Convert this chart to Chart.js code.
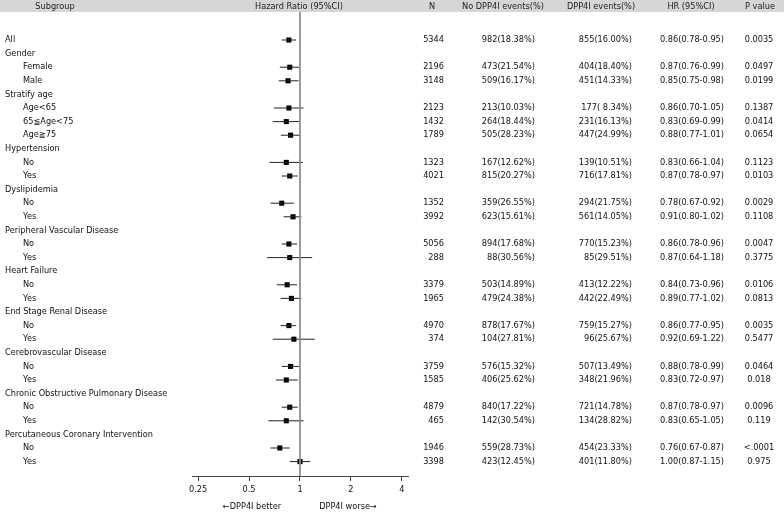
<!DOCTYPE html>
<html>
<head>
<meta charset="utf-8">
<script src="https://cdn.jsdelivr.net/npm/chart.js@4"></script>
<style>
  body { margin: 0; background: #fff; }
  #wrap { width: 784px; height: 512px; }
</style>
</head>
<body>
<div id="wrap"><canvas id="chart" width="784" height="512"></canvas></div>
<script>
// rows of the table, top to bottom
const subgroups = ["All", "Gender", "Female", "Male", "Stratify age", "Age<65", "65≦Age<75", "Age≧75",
    "Hypertension", "No", "Yes", "Dyslipidemia", "No", "Yes", "Peripheral Vascular Disease", "No", "Yes",
    "Heart Failure", "No", "Yes", "End Stage Renal Disease", "No", "Yes", "Cerebrovascular Disease", "No", "Yes",
    "Chronic Obstructive Pulmonary Disease", "No", "Yes", "Percutaneous Coronary Intervention", "No", "Yes"];
const indented = [0, 0, 1, 1, 0, 1, 1, 1, 0, 1, 1, 0, 1, 1, 0, 1, 1, 0, 1, 1, 0, 1, 1, 0, 1, 1, 0, 1, 1, 0, 1, 1];

const nTotal = [5344, null, 2196, 3148, null, 2123, 1432, 1789, null, 1323, 4021, null, 1352, 3992, null, 5056, 288,
    null, 3379, 1965, null, 4970, 374, null, 3759, 1585, null, 4879, 465, null, 1946, 3398];
const noDppEvents = [982, null, 473, 509, null, 213, 264, 505, null, 167, 815, null, 359, 623, null, 894, 88,
    null, 503, 479, null, 878, 104, null, 576, 406, null, 840, 142, null, 559, 423];
const noDppPct = [18.38, null, 21.54, 16.17, null, 10.03, 18.44, 28.23, null, 12.62, 20.27, null, 26.55, 15.61, null, 17.68, 30.56,
    null, 14.89, 24.38, null, 17.67, 27.81, null, 15.32, 25.62, null, 17.22, 30.54, null, 28.73, 12.45];
const dppEvents = [855, null, 404, 451, null, 177, 231, 447, null, 139, 716, null, 294, 561, null, 770, 85,
    null, 413, 442, null, 759, 96, null, 507, 348, null, 721, 134, null, 454, 401];
const dppPct = [16.00, null, 18.40, 14.33, null, 8.34, 16.13, 24.99, null, 10.51, 17.81, null, 21.75, 14.05, null, 15.23, 29.51,
    null, 12.22, 22.49, null, 15.27, 25.67, null, 13.49, 21.96, null, 14.78, 28.82, null, 23.33, 11.80];
const hr = [0.86, null, 0.87, 0.85, null, 0.86, 0.83, 0.88, null, 0.83, 0.87, null, 0.78, 0.91, null, 0.86, 0.87,
    null, 0.84, 0.89, null, 0.86, 0.92, null, 0.88, 0.83, null, 0.87, 0.83, null, 0.76, 1.00];
const hrLow = [0.78, null, 0.76, 0.75, null, 0.70, 0.69, 0.77, null, 0.66, 0.78, null, 0.67, 0.80, null, 0.78, 0.64,
    null, 0.73, 0.77, null, 0.77, 0.69, null, 0.78, 0.72, null, 0.78, 0.65, null, 0.67, 0.87];
const hrHigh = [0.95, null, 0.99, 0.98, null, 1.05, 0.99, 1.01, null, 1.04, 0.97, null, 0.92, 1.02, null, 0.96, 1.18,
    null, 0.96, 1.02, null, 0.95, 1.22, null, 0.99, 0.97, null, 0.97, 1.05, null, 0.87, 1.15];
const pValues = ["0.0035", "", "0.0497", "0.0199", "", "0.1387", "0.0414", "0.0654", "", "0.1123", "0.0103", "",
    "0.0029", "0.1108", "", "0.0047", "0.3775", "", "0.0106", "0.0813", "", "0.0035", "0.5477", "", "0.0464", "0.018",
    "", "0.0096", "0.119", "", "<.0001", "0.975"];
const xTicks = [0.25, 0.5, 1, 2, 4];

const FAMILY = "'DejaVu Sans', Verdana, sans-serif";
const FONT = "8.2px " + FAMILY;

function fmtEvents(n, pct) {
    if (n === null) return "";
    let p = pct.toFixed(2);
    if (p.length < 5) p = " " + p;
    return n + "(" + p + "%)";
}

function fmtHr(i) {
    if (hr[i] === null) return "";
    return hr[i].toFixed(2) + "(" + hrLow[i].toFixed(2) + "-" + hrHigh[i].toFixed(2) + ")";
}

// whiskers as one line broken by gaps
const ciData = [];
const pointData = [];
hr.forEach((v, i) => {
    if (v === null) return;
    ciData.push({ x: hrLow[i], y: i }, { x: hrHigh[i], y: i }, { x: null, y: null });
    pointData.push({ x: v, y: i });
});

const tablePlugin = {
    id: "table",
    beforeDraw(chart) {
        const ctx = chart.ctx;
        ctx.save();
        ctx.fillStyle = "#d6d6d6";
        ctx.fillRect(0, 0, chart.width, 12);
        ctx.fillStyle = "#222";
        ctx.font = FONT;
        ctx.textBaseline = "middle";
        ctx.textAlign = "center";
        ctx.fillText("Subgroup", 55, 6.5);
        ctx.fillText("Hazard Ratio (95%CI)", 299, 6.5);
        ctx.fillText("N", 432, 6.5);
        ctx.fillText("No DPP4I events(%)", 503, 6.5);
        ctx.fillText("DPP4I events(%)", 601, 6.5);
        ctx.fillText("HR (95%CI)", 691, 6.5);
        ctx.fillText("P value", 760, 6.5);
        ctx.restore();
    },
    afterDraw(chart) {
        const ctx = chart.ctx;
        const y = chart.scales.y;
        ctx.save();
        ctx.fillStyle = "#111";
        ctx.font = FONT;
        ctx.textBaseline = "middle";
        subgroups.forEach((label, i) => {
            const py = y.getPixelForValue(i);
            ctx.textAlign = "left";
            ctx.fillText(label, indented[i] ? 23 : 5, py);
            if (nTotal[i] === null) return;
            ctx.textAlign = "right";
            ctx.fillText(String(nTotal[i]), 444, py);
            ctx.fillText(fmtEvents(noDppEvents[i], noDppPct[i]), 535, py);
            ctx.fillText(fmtEvents(dppEvents[i], dppPct[i]), 632, py);
            ctx.fillText(fmtHr(i), 724, py);
            ctx.textAlign = "center";
            ctx.fillText(pValues[i], 759, py);
        });
        ctx.textAlign = "center";
        ctx.fillText("\u2190DPP4I better", 252, 507);
        ctx.fillText("DPP4I worse\u2192", 348, 507);
        ctx.restore();
    }
};

new Chart(document.getElementById("chart"), {
    type: "scatter",
    data: {
        datasets: [
            {
                label: "ref",
                data: [{ x: 1, y: -2.06 }, { x: 1, y: 32.06 }],
                showLine: true,
                borderColor: "#8c8c8c",
                borderWidth: 1,
                pointRadius: 0
            },
            {
                label: "CI",
                data: ciData,
                showLine: true,
                spanGaps: false,
                borderColor: "#222",
                borderWidth: 1,
                pointRadius: 0
            },
            {
                label: "HR",
                data: pointData,
                pointStyle: "rect",
                pointRadius: 3.6,
                backgroundColor: "#000",
                borderWidth: 0
            }
        ]
    },
    options: {
        responsive: false,
        animation: false,
        layout: { padding: { left: 192, right: 376, top: 12, bottom: 0 } },
        plugins: { legend: { display: false }, tooltip: { enabled: false } },
        scales: {
            x: {
                type: "logarithmic",
                min: 0.23,
                max: 4.35,
                afterBuildTicks: (s) => { s.ticks = xTicks.map(v => ({ value: v })); },
                afterFit: (s) => { s.height = 36; },
                grid: { display: true, drawOnChartArea: false, drawTicks: true, tickLength: 5, color: "#444" },
                border: { display: true, color: "#444", width: 1 },
                ticks: {
                    color: "#111",
                    font: { family: FAMILY, size: 8.2 },
                    padding: 4,
                    maxRotation: 0,
                    autoSkip: false,
                    callback: (v) => String(v)
                }
            },
            y: {
                type: "linear",
                reverse: true,
                min: -2.06,
                max: 32.06,
                display: false
            }
        }
    },
    plugins: [tablePlugin]
});
</script>
</body>
</html>
